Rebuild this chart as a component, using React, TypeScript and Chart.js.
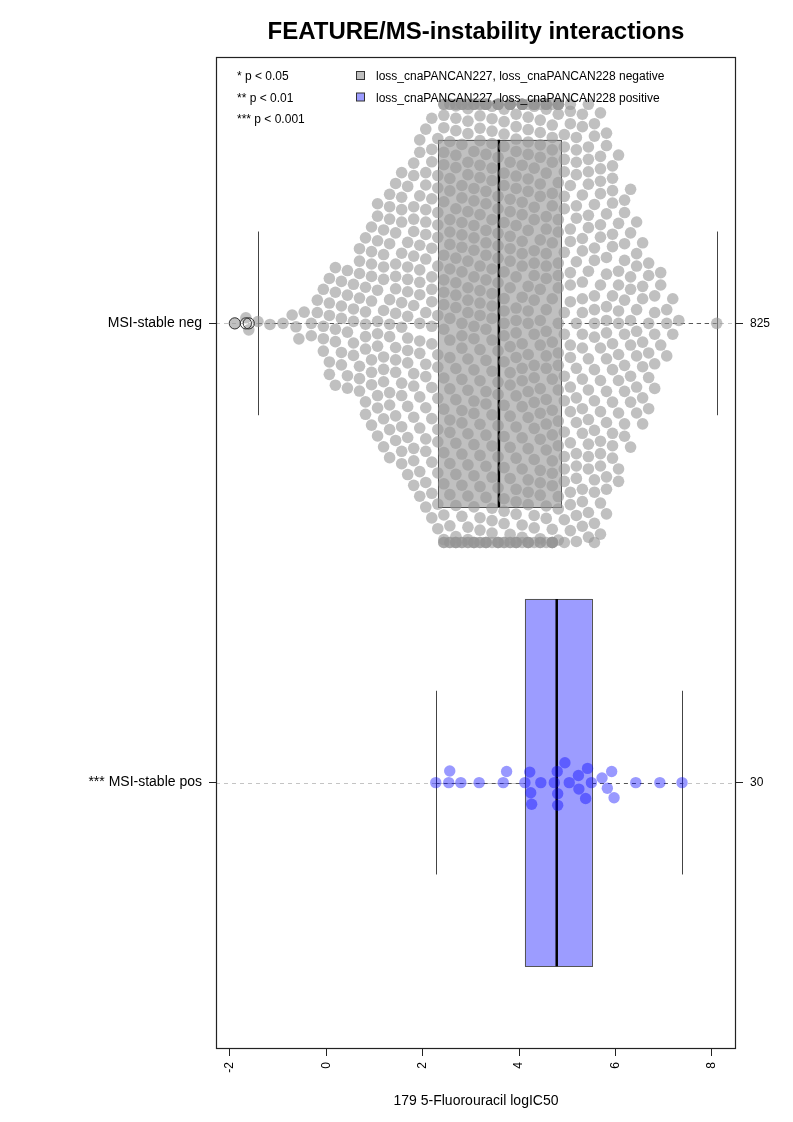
import React, { useEffect, useRef } from "react";
import { Chart, registerables } from "chart.js";

Chart.register(...registerables);

const FONT = '"Liberation Sans", Arial, Helvetica, sans-serif';

const chartTitle = "FEATURE/MS-instability interactions";
const xAxisTitle = "179 5-Fluorouracil logIC50";
const groupLabels = ["MSI-stable neg", "*** MSI-stable pos"];
const groupCounts = ["825", "30"];
const groupPositions = [2, 1];
const xTicks = [-2, 0, 2, 4, 6, 8];
const legendStars = ["* p < 0.05", "** p < 0.01", "*** p < 0.001"];
const legendSeries = [
  "loss_cnaPANCAN227, loss_cnaPANCAN228 negative",
  "loss_cnaPANCAN227, loss_cnaPANCAN228 positive",
];

// box plot statistics (neg, pos)
const boxQ1 = [2.315, 4.12];
const boxMedian = [3.58, 4.78];
const boxQ3 = [4.87, 5.51];
const whiskerLow = [-1.42, 2.27];
const whiskerHigh = [8.1, 7.38];
const outliersNeg = [-1.9, -1.67, -1.61];

// MSI-stable neg: low tail values, binned body (counts per 0.125 bin), high tail
const negTailLow = [-1.9, -1.67, -1.61, -1.42, -1.17, -0.9, -0.71, -0.63, -0.57, -0.46];
const negBinFirstCenter = -0.3125;
const negBinWidth = 0.125;
const negBinCounts = [
  2, 2, 4, 5, 5, 5, 5, 5, 7, 8, 9, 10, 10, 11, 11, 12, 12, 13, 14, 15, 15, 16,
  20, 20, 21, 21, 21, 21, 21, 21, 20, 20,
  21, 21, 21, 21, 21, 20, 20, 20, 21, 20,
  17, 17, 16, 16, 16, 16, 16, 14, 13, 11, 10, 9, 8, 7, 6, 5, 3, 3, 2, 1,
];
const negTailHigh = [8.1];

// MSI-stable pos: 30 values
const posValues = [
  2.27, 2.54, 2.56, 2.79, 3.17, 3.67, 3.74, 4.12, 4.22, 4.24, 4.26, 4.45, 4.73, 4.79, 4.8,
  4.8, 4.95, 5.04, 5.23, 5.24, 5.38, 5.42, 5.5, 5.72, 5.83, 5.92, 5.97, 6.42, 6.92, 7.38,
];

const NEG_DOT = "rgba(150,150,150,0.6)";
const POS_DOT = "rgba(0,0,255,0.4)";
const NEG_BOX = "#c0c0c0";
const POS_BOX = "#9c9cff";

function negValues(): number[] {
  const vals: number[] = [...negTailLow];
  negBinCounts.forEach((c, i) => {
    const v = negBinFirstCenter + i * negBinWidth;
    for (let k = 0; k < c; k++) vals.push(v);
  });
  vals.push(...negTailHigh);
  return vals;
}

function swarmOffsets(px: number[], D: number): number[] {
  const idx = px.map((_, i) => i).sort((a, b) => px[a] - px[b]);
  const off = new Array(px.length).fill(0);
  const placed: number[] = [];
  for (const i of idx) {
    const xi = px[i];
    const near: number[][] = [];
    for (let k = placed.length - 1; k >= 0; k--) {
      const j = placed[k];
      const dx = xi - px[j];
      if (dx >= D) break;
      near.push([off[j], Math.sqrt(D * D - dx * dx)]);
    }
    const cands = [0];
    near.forEach(([y, h]) => cands.push(y - h, y + h));
    cands.sort((a, b) => Math.abs(a) - Math.abs(b) || a - b);
    let best = 0;
    for (const c of cands) {
      if (near.every(([y, h]) => Math.abs(c - y) >= h - 1e-7)) {
        best = c;
        break;
      }
    }
    off[i] = best;
    placed.push(i);
  }
  return off;
}

const overlayPlugin = {
  id: "overlay",
  beforeDatasetsDraw(chart: any) {
    const { ctx, chartArea: a, scales } = chart;
    const xs = scales.x;
    const ys = scales.y;
    const X = (v: number) => xs.getPixelForValue(v);
    const Y = (v: number) => ys.getPixelForValue(v);
    ctx.save();
    ctx.beginPath();
    ctx.rect(a.left, a.top, a.right - a.left, a.bottom - a.top);
    ctx.clip();
    groupPositions.forEach((p) => {
      const yc = Math.round(Y(p)) + 0.5;
      ctx.setLineDash([4, 4]);
      ctx.strokeStyle = "#c4c4c4";
      ctx.lineWidth = 1;
      ctx.beginPath();
      ctx.moveTo(a.left, yc);
      ctx.lineTo(a.right, yc);
      ctx.stroke();
    });
    groupPositions.forEach((p, g) => {
      const yc = Math.round(Y(p)) + 0.5;
      ctx.setLineDash([4, 4]);
      ctx.strokeStyle = "#555";
      ctx.lineWidth = 1;
      ctx.beginPath();
      ctx.moveTo(X(whiskerLow[g]), yc);
      ctx.lineTo(X(boxQ1[g]), yc);
      ctx.moveTo(X(boxQ3[g]), yc);
      ctx.lineTo(X(whiskerHigh[g]), yc);
      ctx.stroke();
      ctx.setLineDash([]);
      ctx.strokeStyle = "#444";
      ctx.beginPath();
      [whiskerLow[g], whiskerHigh[g]].forEach((w) => {
        const xw = Math.round(X(w)) + 0.5;
        ctx.moveTo(xw, Y(p + 0.2));
        ctx.lineTo(xw, Y(p - 0.2));
      });
      ctx.stroke();
      const x1 = X(boxQ1[g]);
      const x2 = X(boxQ3[g]);
      const yt = Y(p + 0.4);
      const yb = Y(p - 0.4);
      ctx.fillStyle = g === 0 ? NEG_BOX : POS_BOX;
      ctx.fillRect(x1, yt, x2 - x1, yb - yt);
      ctx.strokeStyle = "#555";
      ctx.lineWidth = 1;
      ctx.strokeRect(Math.round(x1) + 0.5, Math.round(yt) + 0.5, Math.round(x2 - x1), Math.round(yb - yt));
      ctx.strokeStyle = "#000";
      ctx.lineWidth = 2.5;
      ctx.beginPath();
      ctx.moveTo(X(boxMedian[g]), yt);
      ctx.lineTo(X(boxMedian[g]), yb);
      ctx.stroke();
    });
    ctx.restore();
  },
  afterDatasetsDraw(chart: any) {
    const { ctx, chartArea: a, scales } = chart;
    const xs = scales.x;
    const ys = scales.y;
    ctx.save();
    ctx.strokeStyle = "#333";
    ctx.lineWidth = 1;
    outliersNeg.forEach((v) => {
      ctx.beginPath();
      ctx.arc(xs.getPixelForValue(v), ys.getPixelForValue(groupPositions[0]), 5.6, 0, Math.PI * 2);
      ctx.stroke();
    });

    ctx.strokeStyle = "#222";
    ctx.lineWidth = 1.2;
    ctx.strokeRect(a.left + 0.5, a.top + 0.5, a.right - a.left - 1, a.bottom - a.top - 1);

    ctx.fillStyle = "#000";
    ctx.font = `12px ${FONT}`;
    ctx.textAlign = "left";
    ctx.textBaseline = "alphabetic";
    legendStars.forEach((t, i) => ctx.fillText(t, a.left + 21, a.top + 23 + i * 21.5));
    legendSeries.forEach((t, i) => {
      const yy = a.top + 23 + i * 21.5;
      ctx.fillStyle = i === 0 ? "#bebebe" : POS_BOX;
      ctx.fillRect(a.left + 140.5, yy - 8.5, 8, 8);
      ctx.strokeStyle = "#333";
      ctx.lineWidth = 1;
      ctx.strokeRect(a.left + 140.5, yy - 8.5, 8, 8);
      ctx.fillStyle = "#000";
      ctx.fillText(t, a.left + 160, yy);
    });

    ctx.font = `bold 24px ${FONT}`;
    ctx.textAlign = "center";
    ctx.fillText(chartTitle, (a.left + a.right) / 2, 39);
    ctx.restore();
  },
};

export default function App() {
  const ref = useRef<HTMLCanvasElement>(null);
  useEffect(() => {
    const canvas = ref.current;
    if (!canvas) return;
    Chart.defaults.font.family = FONT;
    const chart = new Chart(canvas, {
      type: "scatter",
      data: {
        datasets: [
          {
            label: "neg",
            data: [],
            pointRadius: 5.8,
            pointHoverRadius: 5.8,
            backgroundColor: NEG_DOT,
            borderWidth: 0,
            pointBorderWidth: 0,
          },
          {
            label: "pos",
            data: [],
            pointRadius: 5.7,
            pointHoverRadius: 5.7,
            backgroundColor: POS_DOT,
            borderWidth: 0,
            pointBorderWidth: 0,
          },
        ],
      },
      options: {
        animation: false,
        responsive: false,
        events: [],
        layout: { padding: { top: 57, left: 0, right: 0, bottom: 0 } },
        plugins: { legend: { display: false }, tooltip: { enabled: false }, title: { display: false } },
        scales: {
          x: {
            type: "linear",
            position: "bottom",
            min: -2.29,
            max: 8.5,
            afterBuildTicks: (s: any) => {
              s.ticks = xTicks.map((v) => ({ value: v }));
            },
            afterFit: (s: any) => {
              s.height = 73;
            },
            ticks: {
              autoSkip: false,
              minRotation: 90,
              maxRotation: 90,
              padding: 6,
              color: "#000",
              font: { size: 12, family: FONT },
            },
            grid: { drawOnChartArea: false, drawTicks: true, tickLength: 7, color: "#222" },
            border: { display: false },
            title: {
              display: true,
              text: xAxisTitle,
              color: "#000",
              font: { size: 14, family: FONT },
              padding: { top: 4, bottom: 12 },
            },
          },
          y: {
            type: "linear",
            position: "left",
            min: 0.42,
            max: 2.58,
            afterBuildTicks: (s: any) => {
              s.ticks = groupPositions.map((v) => ({ value: v }));
            },
            afterFit: (s: any) => {
              s.width = 216;
            },
            ticks: {
              autoSkip: false,
              padding: 7,
              color: "#000",
              font: { size: 14, family: FONT },
              callback: (v: any) => groupLabels[groupPositions.indexOf(Number(v))] ?? "",
            },
            grid: { drawOnChartArea: false, drawTicks: true, tickLength: 7, color: "#222" },
            border: { display: false },
          },
          y2: {
            type: "linear",
            position: "right",
            min: 0.42,
            max: 2.58,
            afterBuildTicks: (s: any) => {
              s.ticks = groupPositions.map((v) => ({ value: v }));
            },
            afterFit: (s: any) => {
              s.width = 57;
            },
            ticks: {
              autoSkip: false,
              padding: 7,
              color: "#000",
              font: { size: 12, family: FONT },
              callback: (v: any) => groupCounts[groupPositions.indexOf(Number(v))] ?? "",
            },
            grid: { drawOnChartArea: false, drawTicks: true, tickLength: 7, color: "#222" },
            border: { display: false },
          },
        },
      },
      plugins: [overlayPlugin],
    } as any);

    const xs: any = chart.scales.x;
    const ys: any = chart.scales.y;
    const unitPx = Math.abs(ys.getPixelForValue(1) - ys.getPixelForValue(2));
    const limit = 0.477 * unitPx;
    const build = (vals: number[], pos: number, D: number) => {
      const px = vals.map((v) => xs.getPixelForValue(v));
      const off = swarmOffsets(px, D);
      const yc = ys.getPixelForValue(pos);
      return vals.map((v, i) => {
        const o = Math.max(-limit, Math.min(limit, off[i]));
        return { x: v, y: ys.getValueForPixel(yc + o) };
      });
    };
    chart.data.datasets[0].data = build(negValues(), groupPositions[0], 12.4) as any;
    chart.data.datasets[1].data = build(posValues, groupPositions[1], 11.6) as any;
    chart.update("none");
    return () => chart.destroy();
  }, []);
  return (
    <div style={{ position: "absolute", left: 0, top: 0, width: 793, height: 1122, background: "#fff" }}>
      <canvas ref={ref} width={793} height={1122} style={{ width: "793px", height: "1122px", display: "block" }} />
    </div>
  );
}
